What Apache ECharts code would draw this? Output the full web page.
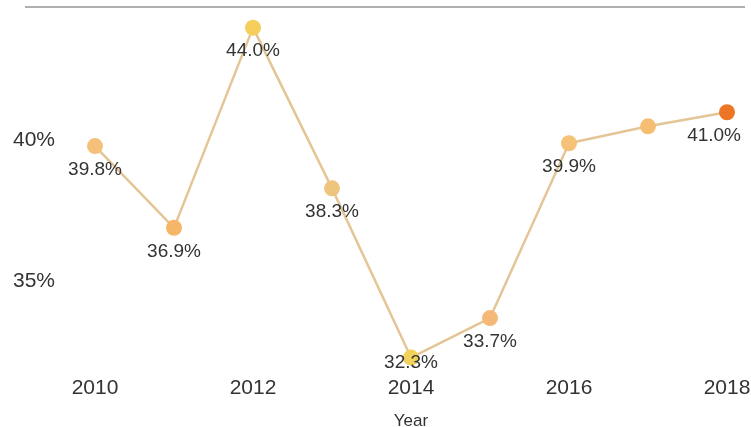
<!DOCTYPE html>
<html>
<head>
<meta charset="utf-8">
<script src="https://cdn.jsdelivr.net/npm/echarts@6/dist/echarts.min.js"></script>
<style>html,body{margin:0;padding:0;background:#fff}#c{width:751px;height:427px}</style>
</head>
<body>
<div id="c"></div>
<script>
var years = ['2010','2011','2012','2013','2014','2015','2016','2017','2018'];
var rates = [39.8, 36.9, 44.0, 38.3, 32.3, 33.7, 39.9, 40.5, 41.0];
var labelled = [true, true, true, true, true, true, true, false, true];
var pointColors = ['#F5C07A','#F6B668','#F5CE5C','#EFC47E','#F3D25C','#F5B878','#F5C277','#F6BE72','#EC7626'];

var chart = echarts.init(document.getElementById('c'));
var W = 751, GRID_BOTTOM_PX = 366;
chart.setOption({
  animation: false,
  backgroundColor: '#fff',
  graphic: [{
    type: 'line', silent: true,
    shape: {x1: 25, y1: 7, x2: 745, y2: 7},
    style: {stroke: '#b0b0b0', lineWidth: 2}
  }],
  grid: {left: 95, right: 24, top: 22, bottom: 427 - GRID_BOTTOM_PX, outerBoundsMode: 'none', containLabel: false},
  xAxis: {
    type: 'category', data: years, boundaryGap: false,
    name: 'Year', nameLocation: 'middle', nameGap: 47,
    nameTextStyle: {fontFamily: 'Liberation Sans, Arial', fontSize: 17, color: '#333'},
    axisLine: {show: false}, axisTick: {show: false},
    axisLabel: {interval: 1, margin: 12, fontFamily: 'Liberation Sans, Arial', fontSize: 21, color: '#333'},
    splitLine: {show: false}
  },
  yAxis: {
    type: 'value', min: 32, max: 44.2, interval: 1,
    axisLine: {show: false}, axisTick: {show: false}, splitLine: {show: false},
    axisLabel: {
      margin: 40, fontFamily: 'Liberation Sans, Arial', fontSize: 21, color: '#333',
      formatter: function (v) { return (Math.abs(v % 5) < 1e-9) ? v + '%' : ''; }
    }
  },
  series: [{
    type: 'line',
    data: rates,
    symbol: 'circle', symbolSize: 16,
    lineStyle: {color: '#E4C696', width: 2.5},
    itemStyle: {color: function (p) { return pointColors[p.dataIndex]; }},
    label: {
      show: true, position: 'bottom', distance: 6,
      fontFamily: 'Liberation Sans, Arial', fontSize: 19, color: '#333',
      formatter: function (p) { return labelled[p.dataIndex] ? p.value.toFixed(1) + '%' : ''; }
    },
    labelLayout: function (params) {
      var r = params.labelRect, dx = 0, dy = 0;
      if (r.x + r.width > W - 10) dx = (W - 10) - (r.x + r.width);
      var limit = GRID_BOTTOM_PX + 6;
      if (r.y + r.height > limit) dy = limit - (r.y + r.height);
      return {dx: dx, dy: dy};
    }
  }]
});
</script>
</body>
</html>
